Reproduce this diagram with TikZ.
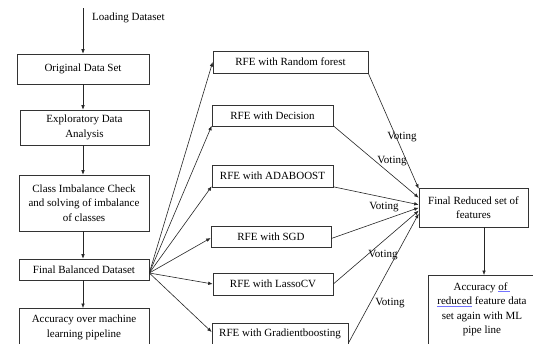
\documentclass[tikz,border=0pt]{standalone}
\usepackage{fontspec}
\setmainfont{Liberation Serif}
\usetikzlibrary{arrows.meta,calc}
\newcommand\spellul[1]{\textcolor{blue!55}{\underline{\textcolor{black}{#1}}}}
\begin{document}
\begin{tikzpicture}[x=1pt,y=-1pt,
  box/.style={draw=black!80,line width=0.6pt,inner sep=2pt,align=center,
    font=\fontsize{11}{14.5}\selectfont},
  conn/.style={draw=black!85,line width=0.6pt,-{Latex[length=4.5pt,width=3.6pt]}},
  lbl/.style={font=\fontsize{11}{13}\selectfont,inner sep=0pt}]
\clip (0,0) rectangle (533,343);
\fill[white] (0,0) rectangle (533,343);
% left column
\node[box,minimum width=132pt,minimum height=30pt] (orig) at (83,69) {Original Data Set};
\node[box,minimum width=129pt,minimum height=35pt] (eda) at (84.5,127.5) {Exploratory Data\\Analysis};
\node[box,minimum width=130pt,minimum height=56pt] (cib) at (84,203) {Class Imbalance Check\\and solving of imbalance\\of classes};
\node[box,minimum width=130pt,minimum height=21pt] (fbd) at (84,269.5) {Final Balanced Dataset};
\node[box,minimum width=130pt,anchor=north,inner xsep=4pt,inner ysep=7pt] (acc1) at (84,308) {Accuracy over machine\\learning pipeline\\\rule{0pt}{25pt}};
% middle column
\node[box,minimum width=155pt,minimum height=22pt] (rf) at (290.5,62) {RFE with Random forest};
\node[box,minimum width=121pt,minimum height=21pt] (dec) at (272.5,115.5) {RFE with Decision};
\node[box,minimum width=121pt,minimum height=22pt] (ada) at (272.5,176) {RFE with ADABOOST};
\node[box,minimum width=120pt,minimum height=21pt] (sgd) at (271,236.5) {RFE with SGD};
\node[box,minimum width=120pt,minimum height=22pt] (lasso) at (273,284) {RFE with LassoCV};
\node[box,minimum width=136pt,minimum height=22pt] (gb) at (280,334) {RFE with Gradientboosting};
% right column
\node[box,minimum width=109pt,minimum height=39pt] (frs) at (473.5,207.5) {Final Reduced set of\\features};
\node[box,minimum width=108pt,anchor=north,inner xsep=3pt,inner ysep=7pt] (acc2) at (482,275) {Accuracy \spellul{of\ }\\\spellul{reduced} feature data\\set again with ML\\pipe line\\\rule{0pt}{15pt}};
% top
\coordinate (start) at (83,8);
\node[lbl,anchor=west] (load) at (92,17.5) {Loading Dataset};
\draw[conn] (start) -- (start |- orig.north);
\draw[conn] (orig.south -| start) -- (start |- eda.north);
\draw[conn] (eda.south -| start) -- (start |- cib.north);
\draw[conn] (cib.south -| start) -- (start |- fbd.north);
\draw[conn] (fbd.south -| start) -- (start |- acc1.north);
% fan out
\coordinate (src) at ($(fbd.east)+(0,3.5)$);
\draw[conn] (src) -- (rf.west);
\draw[conn] (src) -- ($(dec.south west)+(0,-0.5)$);
\draw[conn] (src) -- ($(ada.south west)+(0,-1)$);
\draw[conn] (src) -- ($(sgd.west)+(0,1.5)$);
\draw[conn] (src) -- (lasso.west);
\draw[conn] (src) -- ($(gb.west)+(0,-2)$);
% voting
\draw[conn] (rf.south east) -- ($(frs.north west)+(0,1)$);
\draw[conn] ($(dec.south east)+(0,-0.5)$) -- ($(frs.north west)+(0,10)$);
\draw[conn] ($(ada.south east)+(0,-0.5)$) -- ($(frs.north west)+(0,17)$);
\draw[conn] ($(sgd.east)+(0,2)$) -- ($(frs.north west)+(0,20)$);
\draw[conn] (lasso.east) -- ($(frs.north west)+(0,23)$);
\draw[conn] ($(gb.south east)+(0,-2)$) -- ($(frs.north west)+(0,26)$);
\node[lbl] (v1) at (402,137) {Voting};
\node[lbl] (v2) at (392,161) {Voting};
\node[lbl] (v3) at (384,207) {Voting};
\node[lbl] (v4) at (383,255) {Voting};
\node[lbl] (v5) at (390,303) {Voting};
% down right
\coordinate (rx) at ($(frs.south)+(10.5,0)$);
\draw[conn] (rx) -- (rx |- acc2.north);
\end{tikzpicture}
\end{document}
